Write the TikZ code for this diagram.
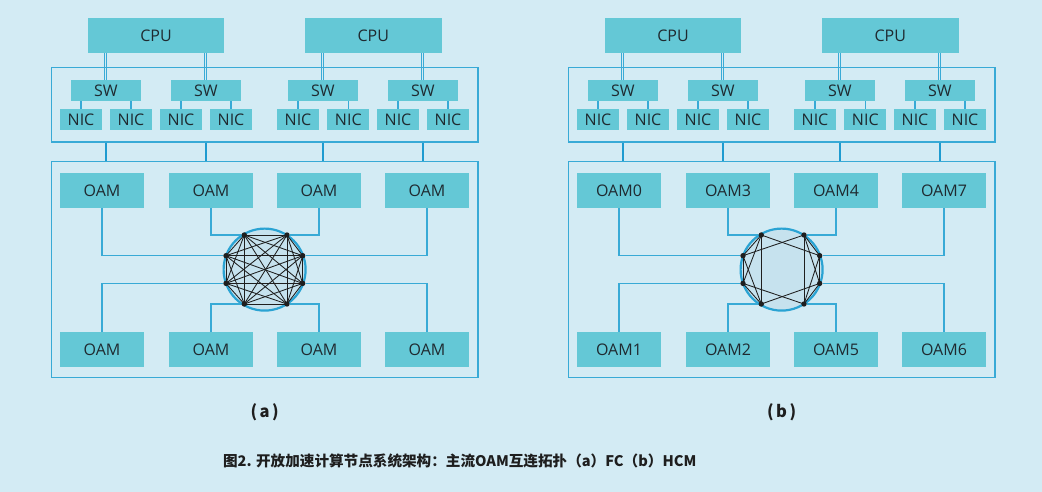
\documentclass[tikz,border=0pt]{standalone}
\usepackage{fontspec}
\setmainfont{Open Sans}
\newfontfamily\cjk{Noto Sans CJK SC}
\definecolor{bg}{HTML}{D3EBF4}
\definecolor{boxfill}{HTML}{64C8D6}
\definecolor{lineblue}{HTML}{38AAD6}
\definecolor{thickblue}{HTML}{1E9BD0}
\definecolor{ringfill}{HTML}{C6E2EE}
\definecolor{ringblue}{HTML}{2AA3D3}
\definecolor{txt}{HTML}{1F2A30}
\definecolor{ink}{HTML}{1E1E1E}
\begin{document}
\begin{tikzpicture}[x=1pt,y=-1pt,
  unitbox/.style={rectangle, fill=boxfill, draw=none, inner sep=0pt, text=txt, font=\fontsize{16}{19}\selectfont},
  panelframe/.style={rectangle, draw=lineblue, line width=1.2pt, inner sep=0pt},
  bluewire/.style={draw=lineblue, line width=1.1pt},
  dbl/.style={draw=lineblue, double=bg, double distance=1.3pt, line width=0.9pt},
  trunk/.style={draw=thickblue, line width=2.4pt},
  ringc/.style={circle, fill=ringfill, draw=ringblue, line width=2.2pt, minimum size=82pt, inner sep=0pt},
  vdot/.style={circle, fill=ink, draw=none, inner sep=0pt, minimum size=5.4pt},
  meshline/.style={draw=ink, line width=0.85pt},
  labtext/.style={text=ink, font=\cjk\bfseries\fontsize{16.5}{19}\selectfont},
  captext/.style={text=ink, font=\cjk\bfseries\fontsize{14.6}{18}\selectfont}]
\fill[bg] (0,0) rectangle (1042,492);
\useasboundingbox (0,0) rectangle (1042,492);
\foreach \p/\dx/\la/\lb/\lc/\ld/\le/\lf/\lg/\lh in {a/0/OAM/OAM/OAM/OAM/OAM/OAM/OAM/OAM, b/517/OAM0/OAM3/OAM4/OAM7/OAM1/OAM2/OAM5/OAM6}{
\begin{scope}[shift={(\dx,0)}]
  % CPUs
  \node[unitbox, minimum width=136pt, minimum height=35pt] (\p-cpu1) at (156,35.3) {CPU};
  \node[unitbox, minimum width=137pt, minimum height=35pt] (\p-cpu2) at (373.3,35.3) {CPU};
  % switches
  \foreach \i/\x in {1/105.8,2/205.8,3/322.8,4/422.8}
    \node[unitbox, minimum width=70pt, minimum height=21pt] (\p-sw\i) at (\x,90.3) {SW};
  % NICs
  \foreach \i/\x in {1/81,2/131,3/181,4/231,5/298,6/348.3,7/398,8/448}
    \node[unitbox, minimum width=42pt, minimum height=21pt] (\p-nic\i) at (\x,119.3) {NIC};
  % CPU to SW double links
  \draw[dbl] (\p-sw1.north) -- (\p-sw1.north |- \p-cpu1.south);
  \draw[dbl] (\p-sw2.north) -- (\p-sw2.north |- \p-cpu1.south);
  \draw[dbl] (\p-sw3.north) -- (\p-sw3.north |- \p-cpu2.south);
  \draw[dbl] (\p-sw4.north) -- (\p-sw4.north |- \p-cpu2.south);
  % SW to NIC
  \foreach \n/\s in {1/1,2/1,3/2,4/2,5/3,6/3,7/4,8/4}
    \draw[bluewire] (\p-nic\n.north) -- (\p-nic\n.north |- \p-sw\s.south);
  % frames
  \node[panelframe, minimum width=426.7pt, minimum height=74.3pt] (\p-up) at (264.65,104.85) {};
  \node[panelframe, minimum width=426.7pt, minimum height=216pt] (\p-low) at (264.65,269.7) {};
  % trunks
  \foreach \i in {1,2,3,4}
    \draw[trunk] (\p-sw\i |- \p-up.south) -- (\p-sw\i |- \p-low.north);
  % OAM modules
  \node[unitbox, minimum width=84pt, minimum height=35pt] (\p-o1) at (102,190.3) {\la};
  \node[unitbox, minimum width=84pt, minimum height=35pt] (\p-o2) at (211,190.3) {\lb};
  \node[unitbox, minimum width=84pt, minimum height=35pt] (\p-o3) at (319,190.3) {\lc};
  \node[unitbox, minimum width=84pt, minimum height=35pt] (\p-o4) at (427,190.3) {\ld};
  \node[unitbox, minimum width=84pt, minimum height=35pt] (\p-o5) at (102,349.3) {\le};
  \node[unitbox, minimum width=84pt, minimum height=35pt] (\p-o6) at (211,349.3) {\lf};
  \node[unitbox, minimum width=84pt, minimum height=35pt] (\p-o7) at (319,349.3) {\lg};
  \node[unitbox, minimum width=84pt, minimum height=35pt] (\p-o8) at (427,349.3) {\lh};
  % ring and its points
  \node[ringc] (\p-ring) at (264.6,269.6) {};
  \node[vdot] (\p-d1) at (244.3,235) {};
  \node[vdot] (\p-d2) at (287,235) {};
  \node[vdot] (\p-d3) at (302.7,255.7) {};
  \node[vdot] (\p-d4) at (302.7,283.4) {};
  \node[vdot] (\p-d5) at (287,304) {};
  \node[vdot] (\p-d6) at (244.3,304) {};
  \node[vdot] (\p-d7) at (226,283.4) {};
  \node[vdot] (\p-d8) at (226,255.7) {};
  % OAM to ring points
  \draw[bluewire] (\p-o1.south) |- (\p-d8);
  \draw[bluewire] (\p-o2.south) |- (\p-d1);
  \draw[bluewire] (\p-o3.south) |- (\p-d2);
  \draw[bluewire] (\p-o4.south) |- (\p-d3);
  \draw[bluewire] (\p-o5.north) |- (\p-d7);
  \draw[bluewire] (\p-o6.north) |- (\p-d6);
  \draw[bluewire] (\p-o7.north) |- (\p-d5);
  \draw[bluewire] (\p-o8.north) |- (\p-d4);
  % sub-caption
  \node[labtext] (\p-lab) at (264.6,412) {(\hspace{2.5pt}\p\hspace{2.5pt})};
\end{scope}
}
% (a) fully connected mesh
\foreach \i in {1,...,7}{
  \pgfmathtruncatemacro\nx{\i+1}
  \foreach \j in {\nx,...,8}{
    \draw[meshline] (a-d\i.center) -- (a-d\j.center);
  }
}
% (b) hybrid cube mesh
\foreach \i/\j in {1/8,1/7,1/6,8/7,8/6,7/6,2/3,2/4,2/5,3/4,3/5,4/5,1/3,2/8,7/5,6/4}
  \draw[meshline] (b-d\i.center) -- (b-d\j.center);
% caption
\node[captext] (cap) at (459.7,460.5) {图2. 开放加速计算节点系统架构：主流OAM互连拓扑（a）FC（b）HCM};
\end{tikzpicture}
\end{document}
